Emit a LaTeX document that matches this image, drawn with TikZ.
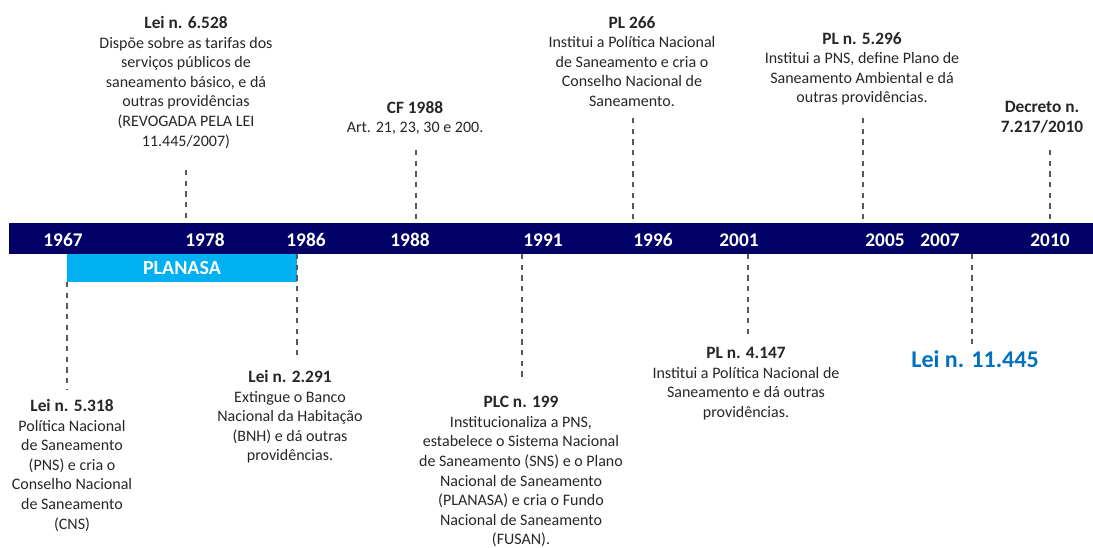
\documentclass[tikz,border=0pt]{standalone}
\usepackage{fontspec}
\setmainfont{Carlito}
\usepackage{tikz}
\usetikzlibrary{calc}

\definecolor{barblue}{HTML}{000066}
\definecolor{planblue}{HTML}{00B0F0}
\definecolor{leiblue}{HTML}{0070C0}
\definecolor{txtgray}{HTML}{262626}

\newcommand{\evtit}[1]{{\bfseries\fontsize{13}{14.7}\selectfont #1}}

\begin{document}
\begin{tikzpicture}[x=0.75pt,y=-0.75pt,
    evt/.style={align=center,anchor=north,inner sep=0pt,text=txtgray,font=\fontsize{12}{14.7}\selectfont},
    year/.style={text=white,font=\bfseries\fontsize{14.5}{16}\selectfont,inner sep=0pt},
    tick/.style={draw=black!65,line width=1pt,dash pattern=on 4pt off 4pt}]
    \useasboundingbox (0,0) rectangle (1093,548);

    \coordinate (bartop) at (0,223);
    \coordinate (barbot) at (0,254);
    \coordinate (planbot) at (0,282);

    \fill[barblue] (9,223) rectangle (1093,254);
    \fill[planblue] (67,254) rectangle (297,282);
    \node[year,font=\bfseries\fontsize{15}{17}\selectfont] (planasa) at (182,268) {PLANASA};

    \foreach \yr/\x in {1967/63,1978/205,1986/306,1988/410,1991/543,1996/653,2001/739,2005/885,2007/940,2010/1050}
        \node[year] (y\yr) at (\x,240) {\yr};

    % acima da barra
    \coordinate (c6528) at (186,170);
    \coordinate (c1988) at (416,150);
    \coordinate (c266) at (633,118);
    \coordinate (c5296) at (863,118);
    \coordinate (c7217) at (1050,150);

    \node[evt] (l6528) at (186,16) {\evtit{Lei n. 6.528}\\Dispõe sobre as tarifas dos\\serviços públicos de\\saneamento básico, e dá\\outras providências\\(REVOGADA PELA LEI\\11.445/2007)};
    \node[evt] (cf1988) at (415,101) {\evtit{CF 1988}\\Art. 21, 23, 30 e 200.};
    \node[evt] (pl266) at (632,16) {\evtit{PL 266}\\Institui a Política Nacional\\de Saneamento e cria o\\Conselho Nacional de\\Saneamento.};
    \node[evt] (pl5296) at (862,32) {\evtit{PL n. 5.296}\\Institui a PNS, define Plano de\\Saneamento Ambiental e dá\\outras providências.};
    \node[evt] (dec7217) at (1042,101) {\evtit{Decreto n.}\\\evtit{7.217/2010}};

    \draw[tick] (c6528) -- (c6528 |- bartop);
    \draw[tick] (c1988) -- (c1988 |- bartop);
    \draw[tick] (c266) -- (c266 |- bartop);
    \draw[tick] (c5296) -- (c5296 |- bartop);
    \draw[tick] (c7217) -- (c7217 |- bartop);

    % abaixo da barra
    \coordinate (c5318) at (67,390);
    \coordinate (c2291) at (297,359);
    \coordinate (c199) at (522,382);
    \coordinate (c4147) at (748,335);
    \coordinate (c11445) at (972,344);

    \node[evt] (l5318) at (72,399) {\evtit{Lei n. 5.318}\\Política Nacional\\de Saneamento\\(PNS) e cria o\\Conselho Nacional\\de Saneamento\\(CNS)};
    \node[evt] (l2291) at (290,370) {\evtit{Lei n. 2.291}\\Extingue o Banco\\Nacional da Habitação\\(BNH) e dá outras\\providências.};
    \node[evt] (plc199) at (521,396) {\evtit{PLC n. 199}\\Institucionaliza a PNS,\\estabelece o Sistema Nacional\\de Saneamento (SNS) e o Plano\\Nacional de Saneamento\\(PLANASA) e cria o Fundo\\Nacional de Saneamento\\(FUSAN).};
    \node[evt] (pl4147) at (746,347) {\evtit{PL n. 4.147}\\Institui a Política Nacional de\\Saneamento e dá outras\\providências.};
    \node[evt,text=leiblue,font=\bfseries\fontsize{18}{21}\selectfont] (l11445) at (975,350) {Lei n. 11.445};

    \draw[tick] (c5318 |- planbot) -- (c5318);
    \draw[tick] (c2291 |- barbot) -- (c2291);
    \draw[tick] (c199 |- barbot) -- (c199);
    \draw[tick] (c4147 |- barbot) -- (c4147);
    \draw[tick] (c11445 |- barbot) -- (c11445);
\end{tikzpicture}
\end{document}
